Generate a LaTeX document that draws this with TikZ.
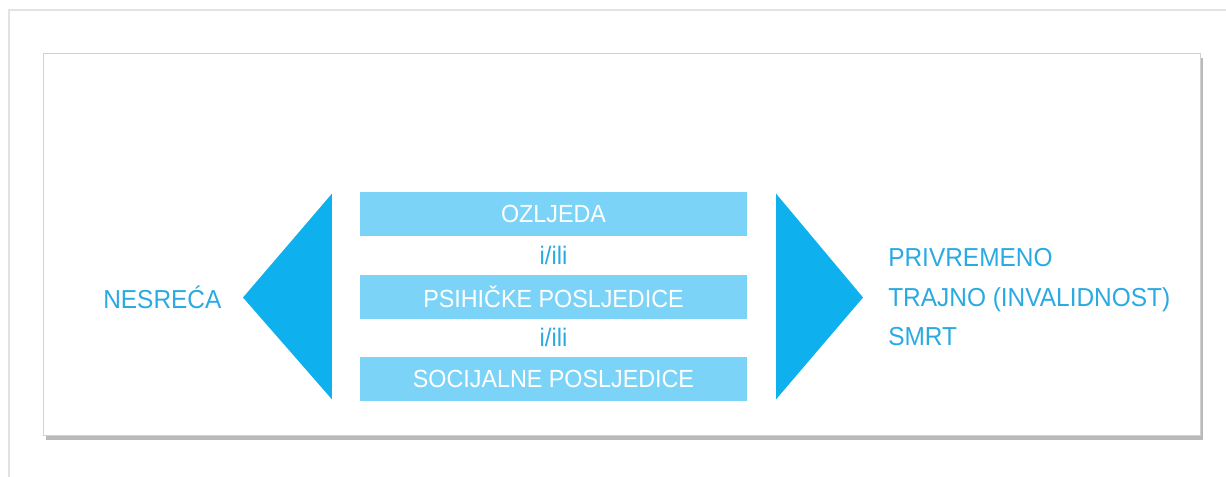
\documentclass[tikz,border=0pt]{standalone}
\usepackage{fontspec}
\setmainfont[FakeStretch=0.94]{Liberation Sans}
\usetikzlibrary{%
  positioning,% wg. " of "
  calc,%
  shadows%
}
\definecolor{arrowblue}{HTML}{0FB0EE}
\definecolor{barblue}{HTML}{7BD4F8}
\definecolor{textblue}{HTML}{2AAAE2}
\definecolor{framegray}{HTML}{E2E2E2}

\tikzset{
  bar/.style={fill=barblue, text=white, minimum width=290pt, minimum height=33pt,
    inner sep=0pt, font=\fontsize{18.6}{20}\selectfont},
  orlabel/.style={text=textblue, inner sep=0pt, font=\fontsize{19}{20}\selectfont},
  sidetext/.style={text=textblue, inner sep=0pt, align=left,
    font=\fontsize{19.5}{29.6}\selectfont},
  wedge/.style={fill=arrowblue, draw=none}
}

\begin{document}
\begin{tikzpicture}[x=0.75pt,y=-0.75pt]
    \useasboundingbox (0,0) rectangle (1226,477);
    %outer frame
    \draw[framegray, line width=0.9pt] (9,477) -- (9,10) -- (1226,10);
    %panel with shadow
    \filldraw[fill=white, draw=black!18, line width=0.5pt,
      drop shadow={shadow xshift=2pt, shadow yshift=-4pt, fill=black!55, opacity=0.5}]
      (43,53) rectangle (1200,435);

    %middle column
    \node[bar] (bar2) at (553.5,296.5) {PSIHIČKE POSLJEDICE};
    \node[bar] (bar1) [above=28.5pt of bar2] {OZLJEDA};
    \node[bar] (bar3) [below=28.5pt of bar2] {SOCIJALNE POSLJEDICE};
    \node[orlabel] (or1) at ($(bar1.south)!0.5!(bar2.north)$) {i/ili};
    \node[orlabel] (or2) at ($(bar2.south)!0.5!(bar3.north)$) {i/ili};

    %wedges
    \fill[wedge] ($(bar1.north west)+(-28,2)$) -- (243,297.5) -- ($(bar3.south west)+(-28,-2)$) -- cycle;
    \fill[wedge] ($(bar1.north east)+(29,2)$) -- (863,297.5) -- ($(bar3.south east)+(29,-2)$) -- cycle;

    %side texts
    \node[sidetext, anchor=west] (accident) at (103,297.5) {NESREĆA};
    \node[sidetext, anchor=west] (outcome) at (888,297.5) {PRIVREMENO\\TRAJNO (INVALIDNOST)\\SMRT};
\end{tikzpicture}
\end{document}
